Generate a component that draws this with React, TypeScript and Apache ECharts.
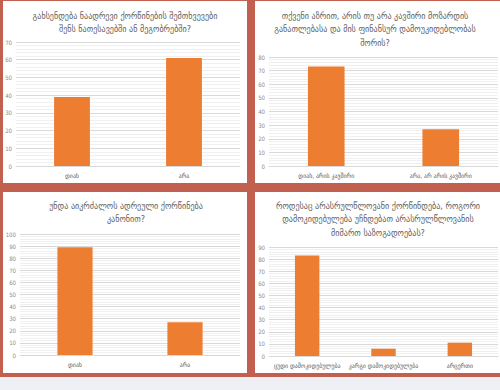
import React, { useEffect, useRef } from "react";
import * as echarts from "echarts";

const q1Title = "გახსენდება ნაადრევი ქორწინების შემთხვევები\nშენს ნათესავებში ან მეგობრებში?";
const q1Categories = ["დიახ", "არა"];
const q1Values = [39, 61];
const q1Max = 70;

const q2Title = "თქვენი აზრით, არის თუ არა კავშირი მოზარდის\nგანათლებასა და მის ფინანსურ დამოუკიდებლობას\nშორის?";
const q2Categories = ["დიახ, არის კავშირი", "არა, არ არის კავშირი"];
const q2Values = [73, 27];
const q2Max = 80;

const q3Title = "უნდა აიკრძალოს ადრეული ქორწინება\nკანონით?";
const q3Categories = ["დიახ", "არა"];
const q3Values = [89, 27];
const q3Max = 100;

const q4Title = "როდესაც არასრულწლოვანი ქორწინდება, როგორი\nდამოკიდებულება უჩნდებათ არასრულწლოვანის\nმიმართ საზოგადოებას?";
const q4Categories = ["ცუდი დამოკიდებულება", "კარგი დამოკიდებულება", "არცერთი"];
const q4Values = [83, 6, 11];
const q4Max = 90;

const BORDER = "#c1604f";
const BAR = "#ed7d31";
const FONT = "'DejaVu Sans Condensed', 'DejaVu Sans', sans-serif";

export default function App() {
  const ref = useRef<HTMLDivElement>(null);
  useEffect(() => {
    if (!ref.current) return;
    const chart = echarts.init(ref.current, null, { renderer: "svg" });

    const panels = [
      { title: q1Title, cats: q1Categories, vals: q1Values, max: q1Max, grid: { left: 16, top: 42, width: 224, height: 124 }, tx: 125, ty: 9 },
      { title: q2Title, cats: q2Categories, vals: q2Values, max: q2Max, grid: { left: 269, top: 57, width: 229, height: 109 }, tx: 375, ty: 9 },
      { title: q3Title, cats: q3Categories, vals: q3Values, max: q3Max, grid: { left: 20, top: 234, width: 220, height: 121 }, tx: 126, ty: 199 },
      { title: q4Title, cats: q4Categories, vals: q4Values, max: q4Max, grid: { left: 269, top: 247, width: 229, height: 109 }, tx: 378, ty: 199 },
    ];

    const option: any = {
      animation: false,
      backgroundColor: "#eef0f5",
      graphic: [
        { type: "rect", z: -20, shape: { x: 0, y: 0, width: 500, height: 377 }, style: { fill: BORDER } },
        { type: "rect", z: -19, shape: { x: 3, y: 1, width: 244, height: 182 }, style: { fill: "#ffffff" } },
        { type: "rect", z: -19, shape: { x: 255, y: 1, width: 245, height: 182 }, style: { fill: "#ffffff" } },
        { type: "rect", z: -19, shape: { x: 3, y: 192, width: 244, height: 181 }, style: { fill: "#ffffff" } },
        { type: "rect", z: -19, shape: { x: 255, y: 192, width: 245, height: 181 }, style: { fill: "#ffffff" } },
        ...panels.map((p) => ({
          type: "text",
          z: 10,
          x: p.tx,
          y: p.ty,
          style: {
            text: p.title,
            align: "center",
            verticalAlign: "top",
            fill: "#5f5f5f",
            font: `9px ${FONT}`,
            lineHeight: 13.5,
          },
        })),
      ],
      grid: panels.map((p) => ({ ...p.grid, containLabel: false })),
      xAxis: panels.map((p, i) => ({
        type: "category",
        gridIndex: i,
        data: p.cats,
        axisLine: { show: true, lineStyle: { color: "#d9d9d9", width: 1 } },
        axisTick: { show: false },
        axisLabel: { color: "#595959", fontSize: 6.5, fontFamily: FONT, margin: 6, interval: 0 },
        splitLine: { show: false },
      })),
      yAxis: panels.map((p, i) => ({
        type: "value",
        gridIndex: i,
        min: 0,
        max: p.max,
        interval: 10,
        axisLine: { show: false },
        axisTick: { show: false },
        axisLabel: { color: "#8c8c8c", fontSize: 6, fontFamily: FONT, margin: 4 },
        splitLine: { show: true, lineStyle: { color: "#d9d9d9", width: 1 } },
        minorTick: { show: false, splitNumber: 5 },
        minorSplitLine: { show: true, lineStyle: { color: "#f0f0f0", width: 1 } },
      })),
      series: panels.map((p, i) => ({
        type: "bar",
        xAxisIndex: i,
        yAxisIndex: i,
        data: p.vals,
        barWidth: "32%",
        itemStyle: { color: BAR },
      })),
    };
    chart.setOption(option);
    return () => chart.dispose();
  }, []);
  return <div ref={ref} style={{ position: "fixed", left: 0, top: 0, width: 500, height: 390 }} />;
}
